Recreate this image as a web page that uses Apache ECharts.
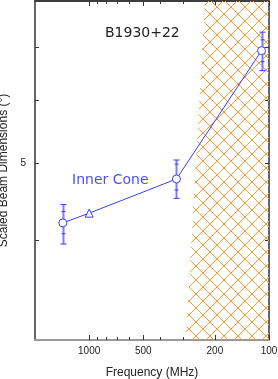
<!DOCTYPE html>
<html>
<head>
<meta charset="utf-8">
<script src="https://cdn.jsdelivr.net/npm/echarts@6/dist/echarts.min.js"></script>
<style>html,body{margin:0;padding:0;background:#fff;}#c{width:278px;height:379px;}</style>
</head>
<body>
<div id="c"></div>
<script>
// Data
const freqs = [1400, 1000, 327, 110];          // MHz
const widths = [4.21, 4.33, 4.78, 6.93];       // scaled beam dimension (deg)
const markers = ['circle', 'triangle', 'circle', 'circle'];
const outerLow = [3.96, null, 4.52, 6.54];
const outerHigh = [4.44, null, 5.05, 7.31];
const innerLow = [4.08, null, 4.63, 6.71];
const innerHigh = [4.35, null, 4.99, 7.15];
const hatchFreqs = [290, 227, 100, 100];       // polygon boundary of hatched region
const hatchVals = [3, 8, 8, 3];
const xMajor = [1000, 500, 200, 100];
const xMinor = [900, 800, 700, 600, 400, 300];
const yTicks = [4, 5, 6, 7];
const yLabels = [5];

const FONT = 'Liberation Sans, Arial, sans-serif';
const FONT2 = 'DejaVu Sans, sans-serif';
const BLUE = '#3b3bff';

// cross-hatch pattern
const tile = document.createElement('canvas');
tile.width = 14; tile.height = 14;
const g = tile.getContext('2d');
g.strokeStyle = '#ff9a30';
g.lineWidth = 1;
g.beginPath();
g.moveTo(0, 0); g.lineTo(14, 14);
g.moveTo(14, 0); g.lineTo(0, 14);
g.stroke();

const chart = echarts.init(document.getElementById('c'), null, {renderer: 'canvas'});

function xAxisDef(pos, ticks, len, showLabel, lineColor, lineWidth) {
  return {
    type: 'log', position: pos, min: 100, max: 2000, inverse: true, logBase: 10,
    axisLine: {show: true, lineStyle: {color: lineColor, width: lineWidth}},
    axisTick: {show: true, inside: true, length: len, customValues: ticks, lineStyle: {color: '#333', width: 1}},
    axisLabel: {show: showLabel, customValues: ticks, color: '#222', fontSize: 10, fontFamily: FONT, margin: 6,
      formatter: function (v) { return String(Math.round(v)); }},
    splitLine: {show: false}, minorTick: {show: false}
  };
}

const xAxes = [
  Object.assign(xAxisDef('bottom', xMajor, 5, true, '#999', 2), {
    name: 'Frequency (MHz)', nameLocation: 'middle', nameGap: 27,
    nameTextStyle: {color: '#222', fontSize: 12, fontFamily: FONT}
  }),
  xAxisDef('bottom', xMinor, 3, false, '#999', 2),
  xAxisDef('top', xMajor, 5, false, '#333', 1.5),
  xAxisDef('top', xMinor, 3, false, '#333', 1.5)
];

function yAxisDef(pos, showLabel) {
  return {
    type: 'log', position: pos, min: 3, max: 8, logBase: 10,
    axisLine: {show: true, lineStyle: {color: '#333', width: 1.5}},
    axisTick: {show: true, inside: true, length: 4, customValues: yTicks, lineStyle: {color: '#333', width: 1}},
    axisLabel: {show: showLabel, customValues: yLabels, color: '#222', fontSize: 10, fontFamily: FONT, margin: 9,
      formatter: function (v) { return String(Math.round(v)); }},
    splitLine: {show: false}, minorTick: {show: false}
  };
}
const yAxes = [
  Object.assign(yAxisDef('left', true), {
    name: 'Scaled Beam Dimensions (°)', nameLocation: 'middle', nameGap: 22,
    nameTextStyle: {color: '#222', fontSize: 12, fontFamily: FONT}
  }),
  yAxisDef('right', false)
];

const errData = [];
for (let i = 0; i < freqs.length; i++) {
  if (outerLow[i] != null) errData.push([freqs[i], outerLow[i], outerHigh[i], innerLow[i], innerHigh[i]]);
}

chart.setOption({
  animation: false,
  grid: {left: 35, right: 9, top: 1, bottom: 39, containLabel: false, outerBoundsMode: 'none'},
  xAxis: xAxes,
  yAxis: yAxes,
  series: [
    {
      type: 'custom', xAxisIndex: 0, yAxisIndex: 0, z: 1, silent: true,
      data: [0],
      renderItem: function (params, api) {
        const pts = hatchFreqs.map((f, k) => api.coord([f, hatchVals[k]]));
        return {type: 'polygon', shape: {points: pts},
          style: {fill: {image: tile, repeat: 'repeat'}, stroke: null}};
      }
    },
    {
      type: 'custom', xAxisIndex: 0, yAxisIndex: 0, z: 3, silent: true,
      data: errData,
      renderItem: function (params, api) {
        const f = api.value(0);
        const top = api.coord([f, api.value(2)]);
        const bot = api.coord([f, api.value(1)]);
        const it = api.coord([f, api.value(4)]);
        const ib = api.coord([f, api.value(3)]);
        const x = Math.round(top[0]) + 0.5;
        const c = 3;
        return {type: 'group', children: [
          {type: 'line', shape: {x1: x, y1: top[1], x2: x, y2: bot[1]}, style: {stroke: '#7d7dff', lineWidth: 2}},
          {type: 'line', shape: {x1: x - c, y1: top[1], x2: x + c, y2: top[1]}, style: {stroke: BLUE, lineWidth: 1}},
          {type: 'line', shape: {x1: x - c, y1: bot[1], x2: x + c, y2: bot[1]}, style: {stroke: BLUE, lineWidth: 1}},
          {type: 'line', shape: {x1: x - 2, y1: it[1], x2: x + 2, y2: it[1]}, style: {stroke: BLUE, lineWidth: 1}},
          {type: 'line', shape: {x1: x - 2, y1: ib[1], x2: x + 2, y2: ib[1]}, style: {stroke: BLUE, lineWidth: 1}}
        ]};
      }
    },
    {
      type: 'line', xAxisIndex: 0, yAxisIndex: 0, z: 4, silent: true,
      data: freqs.map((f, i) => ({value: [f, widths[i]], symbol: markers[i], symbolSize: markers[i] === 'triangle' ? 8 : 8})),
      lineStyle: {color: BLUE, width: 1},
      itemStyle: {color: '#fff', borderColor: BLUE, borderWidth: 1},
      showSymbol: true
    }
  ],
  graphic: [
    {type: 'text', left: 105, top: 26, style: {text: 'B1930+22', fill: '#222', fontSize: 14, fontFamily: FONT2}},
    {type: 'text', left: 72, top: 173, style: {text: 'Inner Cone', fill: '#4d4dff', fontSize: 14, fontFamily: FONT2}}
  ]
});
</script>
</body>
</html>
